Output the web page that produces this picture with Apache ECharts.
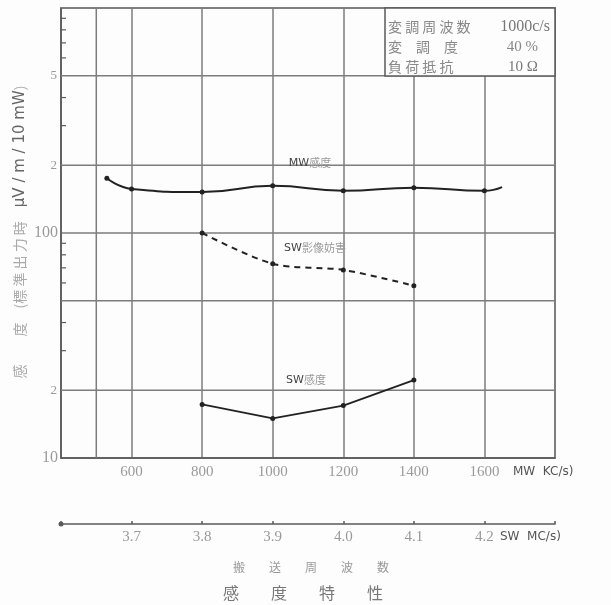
<!DOCTYPE html>
<html><head><meta charset="utf-8">
<script src="https://cdn.jsdelivr.net/npm/echarts@6/dist/echarts.min.js"></script>
<style>html,body{margin:0;padding:0;background:#fdfdfd}#c{width:611px;height:605px}</style>
</head><body><div id="c"></div>
<script>
// ---- data ----
const mwFreq = [530, 600, 800, 1000, 1200, 1400, 1600, 1650];      // kc/s
const mwSens = [175, 157, 152, 162, 154, 159, 154, 160];          // μV/m
const swFreq = [3.8, 3.9, 4.0, 4.1];                              // Mc/s
const swImageRej = [100, 73, 68.5, 58.3];
const swSens = [17.3, 15.0, 17.1, 22.2];
const mwTickLabels = [600, 800, 1000, 1200, 1400, 1600];
const swTickLabels = [3.7, 3.8, 3.9, 4.0, 4.1, 4.2];
const yMainLabels = [10, 100];
const ySubGrid = [20, 50, 200, 500];
const ySubLabelValues = [20, 200, 500];
const ySubLabelTexts = ['2', '2', '5'];
const yMinorTicks = [30, 40, 60, 70, 80, 90, 300, 400, 600, 700, 800, 900];
const xSubGrid = [500];
const MW_MIN = 400, MW_MAX = 1800, SW_MIN = 3.6, SW_MAX = 4.3, Y_MIN = 10, Y_MAX = 1000;

const GRID_C = '#7d7d7d', AXIS_C = '#5a5a5a', NUM_C = '#9a9a9a', LINE_C = '#222';
const SERIF = 'Liberation Serif';
const JP = 'Noto Sans CJK JP';

const chart = echarts.init(document.getElementById('c'), null, {renderer: 'canvas'});
const option = {
  animation: false,
  backgroundColor: '#fdfdfd',
  grid: {left: 61, right: 56, top: 8, bottom: 147, show: true, borderColor: AXIS_C, borderWidth: 1.5, backgroundColor: 'transparent'},
  xAxis: [
    {type: 'value', min: MW_MIN, max: MW_MAX, interval: 200,
     axisLine: {show: true, lineStyle: {color: AXIS_C, width: 1.5}},
     axisTick: {show: false},
     splitLine: {show: true, lineStyle: {color: GRID_C, width: 1.5}},
     axisLabel: {formatter: v => mwTickLabels.includes(Math.round(v)) ? String(Math.round(v)) : '',
                 color: NUM_C, fontFamily: SERIF, fontSize: 15, margin: 7}},
    {type: 'value', position: 'bottom', offset: 66, min: SW_MIN, max: SW_MAX, interval: 0.1,
     axisLine: {show: true, symbol: ['circle', 'none'], symbolSize: [5, 5], lineStyle: {color: AXIS_C, width: 1.5}},
     axisTick: {show: true, inside: true, length: 3, lineStyle: {color: AXIS_C, width: 1.5}},
     splitLine: {show: false},
     axisLabel: {formatter: v => { const r = Math.round(v * 10) / 10; return swTickLabels.some(t => Math.abs(t - r) < 1e-6) ? r.toFixed(1) : ''; },
                 color: NUM_C, fontFamily: SERIF, fontSize: 15, margin: 6}}
  ],
  yAxis: [
    {type: 'log', logBase: 10, min: Y_MIN, max: Y_MAX,
     axisLine: {show: true, lineStyle: {color: AXIS_C, width: 1.5}},
     axisTick: {show: false},
     splitLine: {show: true, lineStyle: {color: GRID_C, width: 1.5}},
     axisLabel: {formatter: v => yMainLabels.includes(Math.round(v)) ? String(Math.round(v)) : '',
                 color: NUM_C, fontFamily: SERIF, fontSize: 16, margin: 3}}
  ],
  series: [
    {type: 'custom', silent: true, z: 1, xAxisIndex: 0, yAxisIndex: 0,
     data: ySubGrid.map(v => [MW_MIN, v]),
     renderItem: (p, api) => { const v = api.value(1); const a = api.coord([MW_MIN, v]), b = api.coord([MW_MAX, v]);
       return {type: 'line', shape: {x1: a[0], y1: a[1], x2: b[0], y2: b[1]}, style: {stroke: GRID_C, lineWidth: 1.5}}; }},
    {type: 'custom', silent: true, z: 1, xAxisIndex: 0, yAxisIndex: 0,
     data: xSubGrid.map(v => [v, Y_MIN]),
     renderItem: (p, api) => { const v = api.value(0); const a = api.coord([v, Y_MIN]), b = api.coord([v, Y_MAX]);
       return {type: 'line', shape: {x1: a[0], y1: a[1], x2: b[0], y2: b[1]}, style: {stroke: GRID_C, lineWidth: 1.5}}; }},
    {type: 'custom', silent: true, z: 2, xAxisIndex: 0, yAxisIndex: 0,
     data: yMinorTicks.map(v => [MW_MIN, v]),
     renderItem: (p, api) => { const a = api.coord([MW_MIN, api.value(1)]);
       return {type: 'line', shape: {x1: a[0], y1: a[1], x2: a[0] + 5, y2: a[1]}, style: {stroke: AXIS_C, lineWidth: 1.2}}; }},
    {type: 'custom', silent: true, z: 2, xAxisIndex: 0, yAxisIndex: 0,
     data: ySubLabelValues.map(v => [MW_MIN, v]),
     renderItem: (p, api) => { const a = api.coord([MW_MIN, api.value(1)]);
       return {type: 'text', x: a[0] - 4, y: a[1], style: {text: ySubLabelTexts[p.dataIndex], fill: NUM_C, fontSize: 13, fontFamily: SERIF, align: 'right', verticalAlign: 'middle'}}; }},
    {name: 'MW感度', type: 'line', xAxisIndex: 0, yAxisIndex: 0, z: 5,
     data: mwFreq.map((f, i) => i === mwFreq.length - 1 ? {value: [f, mwSens[i]], symbol: 'none'} : [f, mwSens[i]]),
     smooth: 0.5, symbol: 'circle', symbolSize: 5,
     lineStyle: {color: LINE_C, width: 2}, itemStyle: {color: LINE_C}},
    {name: 'SW影像妨害', type: 'line', xAxisIndex: 1, yAxisIndex: 0, z: 5,
     data: swFreq.map((f, i) => [f, swImageRej[i]]),
     smooth: 0.3, symbol: 'circle', symbolSize: 5,
     lineStyle: {color: LINE_C, width: 2, type: [6, 5]}, itemStyle: {color: LINE_C}},
    {name: 'SW感度', type: 'line', xAxisIndex: 1, yAxisIndex: 0, z: 5,
     data: swFreq.map((f, i) => [f, swSens[i]]),
     smooth: false, symbol: 'circle', symbolSize: 5,
     lineStyle: {color: LINE_C, width: 1.8}, itemStyle: {color: LINE_C}}
  ],
  graphic: [
    {type: 'rect', z: 50, shape: {x: 385, y: 8, width: 170, height: 68},
     style: {fill: '#fdfdfd', stroke: AXIS_C, lineWidth: 1.5}},
    {type: 'text', z: 51, x: 388, y: 27, style: {text: '変 調 周 波 数', fill: '#888', fontFamily: JP, fontSize: 14, verticalAlign: 'middle'}},
    {type: 'text', z: 51, x: 550, y: 27, style: {text: '1000c/s', fill: '#777', fontFamily: SERIF, fontSize: 16, align: 'right', verticalAlign: 'middle'}},
    {type: 'text', z: 51, x: 388, y: 47, style: {text: '変　調　度', fill: '#888', fontFamily: JP, fontSize: 14, verticalAlign: 'middle'}},
    {type: 'text', z: 51, x: 538, y: 47, style: {text: '40 %', fill: '#888', fontFamily: SERIF, fontSize: 15, align: 'right', verticalAlign: 'middle'}},
    {type: 'text', z: 51, x: 388, y: 67, style: {text: '負 荷 抵 抗', fill: '#888', fontFamily: JP, fontSize: 14, verticalAlign: 'middle'}},
    {type: 'text', z: 51, x: 538, y: 67, style: {text: '10 Ω', fill: '#777', fontFamily: SERIF, fontSize: 15, align: 'right', verticalAlign: 'middle'}},
    {type: 'text', z: 51, x: 310, y: 163, style: {text: '{a|MW}{b|感度}', align: 'center', verticalAlign: 'middle',
      rich: {a: {fill: '#444', fontFamily: 'DejaVu Sans', fontSize: 11}, b: {fill: '#999', fontFamily: JP, fontSize: 11}}}},
    {type: 'text', z: 51, x: 315, y: 248, style: {text: '{a|SW}{b|影像妨害}', align: 'center', verticalAlign: 'middle',
      rich: {a: {fill: '#444', fontFamily: 'DejaVu Sans', fontSize: 11}, b: {fill: '#999', fontFamily: JP, fontSize: 11}}}},
    {type: 'text', z: 51, x: 306, y: 380, style: {text: '{a|SW}{b|感度}', align: 'center', verticalAlign: 'middle',
      rich: {a: {fill: '#444', fontFamily: 'DejaVu Sans', fontSize: 11}, b: {fill: '#999', fontFamily: JP, fontSize: 11}}}},
    {type: 'text', z: 51, x: 513, y: 472, style: {text: 'MW  KC/s)', fill: '#555', fontFamily: 'DejaVu Sans', fontSize: 12, verticalAlign: 'middle'}},
    {type: 'text', z: 51, x: 500, y: 537, style: {text: 'SW  MC/s)', fill: '#555', fontFamily: 'DejaVu Sans', fontSize: 12, verticalAlign: 'middle'}},
    {type: 'text', z: 51, x: 311, y: 567, style: {text: '搬　　送　　周　　波　　数', fill: '#999', fontFamily: JP, fontSize: 12, align: 'center', verticalAlign: 'middle'}},
    {type: 'text', z: 51, x: 303, y: 593, style: {text: '感　　度　　特　　性', fill: '#777', fontFamily: JP, fontSize: 16, align: 'center', verticalAlign: 'middle'}},
    {type: 'text', z: 51, x: 20, y: 232, rotation: Math.PI / 2,
     style: {text: '{b|感　　度　(標 準 出 力 時　}{a|μV / m / 10 mW}{b|)}', align: 'center', verticalAlign: 'middle',
      rich: {a: {fill: '#666', fontFamily: 'DejaVu Sans', fontSize: 15}, b: {fill: '#aaa', fontFamily: JP, fontSize: 14}}}}
  ]
};
chart.setOption(option);
</script></body></html>
